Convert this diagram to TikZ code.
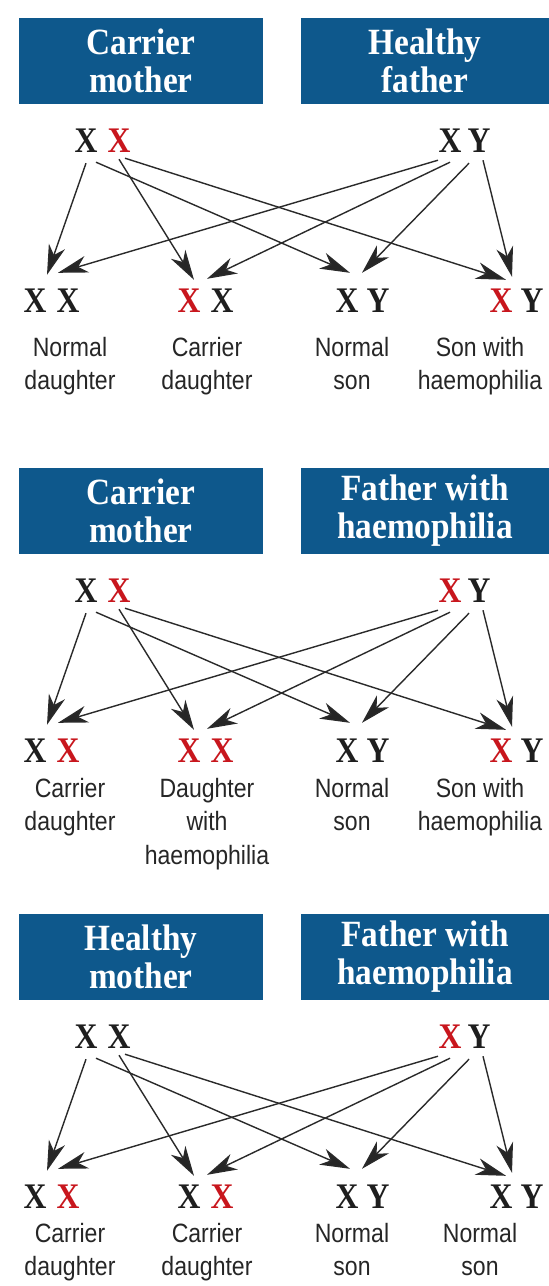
\documentclass[tikz,border=0pt]{standalone}
\usepackage{fontspec}
\usetikzlibrary{arrows.meta}
\newfontfamily\headfont[FakeStretch=0.9]{Liberation Serif}
\newfontfamily\genfontfam[FakeStretch=0.88]{Liberation Serif}
\newfontfamily\labfont[FakeStretch=0.87]{Liberation Sans}
\definecolor{hblue}{HTML}{0E588C}
\definecolor{gred}{HTML}{C8161D}
\definecolor{gblack}{HTML}{1E1E1E}
\definecolor{agray}{HTML}{2A2A2A}
\definecolor{ltext}{HTML}{262626}
\tikzset{
  hbox/.style={fill=hblue, inner sep=0pt, minimum height=86pt, text=white, align=center,
    font=\headfont\bfseries\fontsize{37}{38}\selectfont},
  gen/.style={inner sep=0pt, text height=24pt, text depth=0pt, text=gblack,
    font=\genfontfam\bfseries\fontsize{36}{36}\selectfont},
  rgen/.style={gen, text=gred},
  lab/.style={inner sep=0pt, anchor=north, align=center, text=ltext,
    font=\labfont\fontsize{26.5}{33.5}\selectfont},
  arr/.style={draw=agray, line width=1.4pt,
    -{Stealth[length=30pt,width=17pt,inset=9pt,fill=black!85]}}
}
\newcommand\parrows[1]{%
  \draw[arr] ([shift={(0,11)}]#1m1.south) -- ([shift={(12,-13)}]#1d1a.north);
  \draw[arr] ([shift={(10,10)}]#1m1.south) -- ([shift={(3,-15)}]#1s1a.north);
  \draw[arr] ([shift={(0,7)}]#1m2.south) -- ([shift={(5,-8)}]#1d2a.north);
  \draw[arr] ([shift={(6,6)}]#1m2.south) -- ([shift={(5,-8)}]#1s2a.north);
  \draw[arr] ([shift={(-12,8)}]#1f1.south) -- ([shift={(23,-15)}]#1d1a.north);
  \draw[arr] ([shift={(0,10)}]#1f1.south) -- ([shift={(18,-9)}]#1d2a.north);
  \draw[arr] ([shift={(-10,11)}]#1f2.south) -- ([shift={(15,-15)}]#1s1a.north);
  \draw[arr] ([shift={(4,8)}]#1f2.south) -- ([shift={(11,-11)}]#1s2a.north);
}
\begin{document}
\begin{tikzpicture}[x=1pt,y=-1pt]
\fill[white] (0,0) rectangle (549,1286);
\useasboundingbox (0,0) rectangle (549,1286);

% ---------- Panel 1 ----------
\begin{scope}
\node[hbox, minimum width=244pt] (amt) at (141,61) {Carrier\\mother};
\node[hbox, minimum width=248pt] (aft) at (425,61) {Healthy\\father};
\node[gen]  (am1) at (86,140) {X};
\node[rgen] (am2) at (119,140) {X};
\node[gen]  (af1) at (450,140) {X};
\node[gen]  (af2) at (479,140) {Y};
\node[gen]  (ad1a) at (35,300) {X};
\node[gen]  (ad1b) at (68,300) {X};
\node[rgen] (ad2a) at (189,300) {X};
\node[gen]  (ad2b) at (222,300) {X};
\node[gen]  (as1a) at (347,300) {X};
\node[gen]  (as1b) at (378,300) {Y};
\node[rgen] (as2a) at (501,300) {X};
\node[gen]  (as2b) at (532,300) {Y};
\node[lab] (al1) at (70,337) {Normal\\daughter};
\node[lab] (al2) at (207,337) {Carrier\\daughter};
\node[lab] (al3) at (352,337) {Normal\\son};
\node[lab] (al4) at (480,337) {Son with\\haemophilia};
\parrows{a}
\end{scope}

% ---------- Panel 2 ----------
\begin{scope}[shift={(0,450)}]
\node[hbox, minimum width=244pt] (bmt) at (141,61) {Carrier\\mother};
\node[hbox, minimum width=248pt] (bft) at (425,61) {Father with\\haemophilia};
\node[gen]  (bm1) at (86,140) {X};
\node[rgen] (bm2) at (119,140) {X};
\node[rgen] (bf1) at (450,140) {X};
\node[gen]  (bf2) at (479,140) {Y};
\node[gen]  (bd1a) at (35,300) {X};
\node[rgen] (bd1b) at (68,300) {X};
\node[rgen] (bd2a) at (189,300) {X};
\node[rgen] (bd2b) at (222,300) {X};
\node[gen]  (bs1a) at (347,300) {X};
\node[gen]  (bs1b) at (378,300) {Y};
\node[rgen] (bs2a) at (501,300) {X};
\node[gen]  (bs2b) at (532,300) {Y};
\node[lab] (bl1) at (70,328) {Carrier\\daughter};
\node[lab] (bl2) at (207,328) {Daughter\\with\\haemophilia};
\node[lab] (bl3) at (352,328) {Normal\\son};
\node[lab] (bl4) at (480,328) {Son with\\haemophilia};
\parrows{b}
\end{scope}

% ---------- Panel 3 ----------
\begin{scope}[shift={(0,896)}]
\node[hbox, minimum width=244pt] (cmt) at (141,61) {Healthy\\mother};
\node[hbox, minimum width=248pt] (cft) at (425,61) {Father with\\haemophilia};
\node[gen]  (cm1) at (86,140) {X};
\node[gen]  (cm2) at (119,140) {X};
\node[rgen] (cf1) at (450,140) {X};
\node[gen]  (cf2) at (479,140) {Y};
\node[gen]  (cd1a) at (35,300) {X};
\node[rgen] (cd1b) at (68,300) {X};
\node[gen]  (cd2a) at (189,300) {X};
\node[rgen] (cd2b) at (222,300) {X};
\node[gen]  (cs1a) at (347,300) {X};
\node[gen]  (cs1b) at (378,300) {Y};
\node[gen]  (cs2a) at (501,300) {X};
\node[gen]  (cs2b) at (532,300) {Y};
\node[lab] (cl1) at (70,327) {Carrier\\daughter};
\node[lab] (cl2) at (207,327) {Carrier\\daughter};
\node[lab] (cl3) at (352,327) {Normal\\son};
\node[lab] (cl4) at (480,327) {Normal\\son};
\parrows{c}
\end{scope}
\end{tikzpicture}
\end{document}
